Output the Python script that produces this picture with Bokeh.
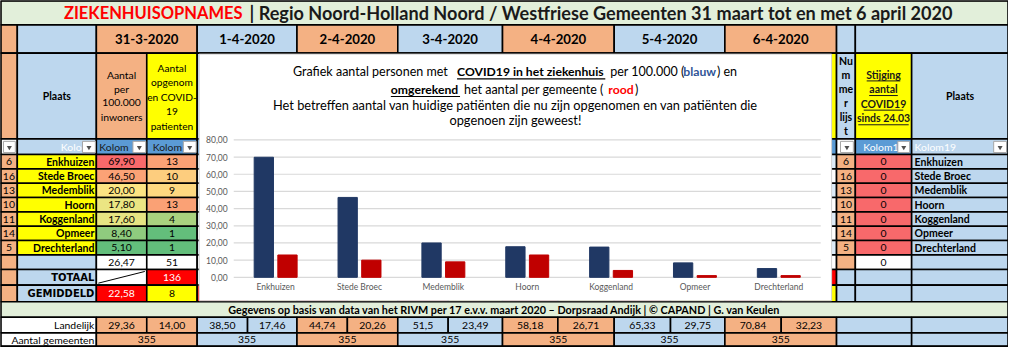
import numpy as np
from bokeh.plotting import figure
from bokeh.models import Range1d, ColumnDataSource
from bokeh.transform import dodge
from bokeh.core.properties import value
from bokeh.embed import file_html
from bokeh.resources import INLINE

# ---------------- data ----------------
cities = ["Enkhuizen", "Stede Broec", "Medemblik", "Hoorn", "Koggenland", "Opmeer", "Drechterland"]
list_nr = [6, 16, 13, 10, 11, 14, 5]
per_100k = [69.90, 46.50, 20.00, 17.80, 17.60, 8.40, 5.10]
admitted = [13, 10, 9, 13, 4, 1, 1]
increase_since_2403 = [0, 0, 0, 0, 0, 0, 0]
dates = ["31-3-2020", "1-4-2020", "2-4-2020", "3-4-2020", "4-4-2020", "5-4-2020", "6-4-2020"]
national_per_100k = ["29,36", "38,50", "44,74", "51,5", "58,18", "65,33", "70,84"]
national_admitted = ["14,00", "17,46", "20,26", "23,49", "26,71", "29,75", "32,23"]
municipalities = [355, 355, 355, 355, 355, 355, 355]
total_admitted = 136
avg_per_100k = 22.58
avg_admitted = 8
y_ticks = [0, 10, 20, 30, 40, 50, 60, 70, 80]

# ---------------- styles ----------------
ORANGE, BLUE, YELLOW, GREEN = "#F4B183", "#BDD7EE", "#FFFF00", "#E2EFDA"
FBLUE, RED, BAND, SCALE_RED = "#5B9BD5", "#FF0000", "#DDEBF7", "#F8696B"
date_colors = [ORANGE, BLUE, ORANGE, BLUE, ORANGE, BLUE, ORANGE]
val_colors = ["#F8696B", "#FBA276", "#FCE483", "#EBE583", "#E6E483", "#8FCB7E", "#63BE7B"]
cnt_colors = ["#FAA175", "#FDCD7E", "#FED880", "#FAA175", "#A9D27F", "#63BE7B", "#63BE7B"]
FONT = "Lato"
FS = 10.4      # regular sheet text
FSB = 10.5     # bold names

def fmt(v):
    return f"{v:.2f}".replace(".", ",")

# ---------------- sheet geometry (reference pixel grid) ----------------
W, H = 1008, 347
X0, X1, Y0, Y1 = 2, 1022, 3, 359

date_edges = [99, 201, 302, 404, 510, 623, 735, 848]
date_split = [150, 252, 353, 455, 566, 680, 792]
R_TITLE, R_DATE, R_HEAD, R_FILT = (3, 28), (28, 57), (57, 145), (145, 161)
data_edges = list(np.linspace(161, 264, 8))
R_SUM, R_TOT, R_GEM = (264, 279), (279, 295), (295, 312)
R_FOOT, R_LAND, R_NUM = (312, 328), (328, 344), (344, 358)

CL, CR, CT, CB = 203, 843, 58, 311
PA_L, PA_R = 238, 832
PA_Y0, PA_Y80 = 287, 146

p = figure(width=W, height=H, x_range=Range1d(X0, X1), y_range=Range1d(Y1, Y0),
           x_axis_type=None, y_axis_type=None, toolbar_location=None,
           output_backend="svg", min_border=0, outline_line_color=None)
p.grid.visible = False
p.background_fill_color = "white"
p.border_fill_color = "white"

n = len(cities)
ux = (PA_R - PA_L) / n
uy = (PA_Y0 - PA_Y80) / 80.0
p.extra_x_ranges = {"cx": Range1d(-0.5 - (PA_L - X0) / ux, n - 0.5 + (X1 - PA_R) / ux)}
p.extra_y_ranges = {"cy": Range1d(0 - (Y1 - PA_Y0) / uy, 80 + (PA_Y80 - Y0) / uy)}

C = dict(l=[], r=[], t=[], b=[], c=[])
def cell(l, r, row, c):
    C["l"].append(l); C["r"].append(r); C["t"].append(row[0]); C["b"].append(row[1]); C["c"].append(c)

cell(2, 1022, R_TITLE, GREEN)
cell(2, 19, R_DATE, ORANGE); cell(19, 99, R_DATE, BLUE)
for i in range(7):
    cell(date_edges[i], date_edges[i + 1], R_DATE, date_colors[i])
cell(848, 867, R_DATE, BLUE); cell(867, 1022, R_DATE, BLUE)
cell(2, 19, R_HEAD, ORANGE); cell(19, 99, R_HEAD, BLUE)
for i in range(7):
    cell(date_edges[i], date_split[i], R_HEAD, date_colors[i])
    cell(date_split[i], date_edges[i + 1], R_HEAD, YELLOW)
cell(848, 867, R_HEAD, BLUE); cell(867, 924, R_HEAD, YELLOW); cell(924, 1022, R_HEAD, BLUE)
cell(2, 19, R_FILT, "white"); cell(19, 99, R_FILT, BLUE)
for i in range(7):
    cell(date_edges[i], date_split[i], R_FILT, FBLUE)
    cell(date_split[i], date_edges[i + 1], R_FILT, FBLUE)
cell(848, 867, R_FILT, "white"); cell(867, 924, R_FILT, FBLUE); cell(924, 1022, R_FILT, BLUE)
for k in range(7):
    row = (data_edges[k], data_edges[k + 1])
    cell(2, 19, row, ORANGE); cell(19, 99, row, YELLOW)
    cell(99, 150, row, val_colors[k]); cell(150, 201, row, cnt_colors[k])
    band = BAND if k % 2 == 0 else "white"
    for i in range(1, 7):
        cell(date_edges[i], date_split[i], row, band)
        cell(date_split[i], date_edges[i + 1], row, band)
    cell(848, 867, row, ORANGE); cell(867, 924, row, SCALE_RED); cell(924, 1022, row, BLUE)
for row, c1, c2, side in [(R_SUM, "white", "white", None), (R_TOT, "white", RED, BLUE), (R_GEM, RED, YELLOW, BLUE)]:
    cell(2, 19, row, ORANGE); cell(19, 99, row, BLUE)
    for i in range(7):
        cell(date_edges[i], date_split[i], row, c1)
        cell(date_split[i], date_edges[i + 1], row, c2)
    if side is None:
        cell(848, 867, row, ORANGE); cell(867, 924, row, "white")
    else:
        cell(848, 867, row, BLUE); cell(867, 924, row, BLUE)
    cell(924, 1022, row, BLUE)
cell(2, 1022, R_FOOT, GREEN)
cell(2, 99, R_LAND, "white"); cell(2, 99, R_NUM, "white")
for i in range(7):
    cell(date_edges[i], date_split[i], R_LAND, date_colors[i])
    cell(date_split[i], date_edges[i + 1], R_LAND, date_colors[i])
    cell(date_edges[i], date_edges[i + 1], R_NUM, date_colors[i])
for row in (R_LAND, R_NUM):
    cell(848, 924, row, BLUE); cell(924, 1022, row, BLUE)

p.quad(left="l", right="r", top="t", bottom="b", fill_color="c", line_color="black",
       line_width=1.6, source=ColumnDataSource(C))
p.quad(left=[2], right=[1022], top=[3], bottom=[358], fill_color=None, line_color="black", line_width=2.4)

def T(x, y, s, size=FS, bold=False, color="black", align="center", font=FONT, **kw):
    p.text(x=[x], y=[y], text=[s], text_font=value(font), text_font_size=f"{size}px",
           text_font_style="bold" if bold else "normal", text_color=color,
           text_align=align, text_baseline="middle", **kw)

def button(l, r, t, b):
    p.quad(left=[l], right=[r], top=[t], bottom=[b], fill_color="white", line_color="#A6A6A6", line_width=1)
    p.scatter(x=[(l + r) / 2], y=[(t + b) / 2 + 0.5], marker="inverted_triangle", size=5,
              fill_color="#505050", line_color=None)

# title
T(247, 16, "ZIEKENHUISOPNAMES", 16.5, True, "#FF0000", "right")
T(254, 16, "| Regio Noord-Holland Noord / Westfriese Gemeenten 31 maart tot en met 6 april 2020", 18.1, True, "#1a1a1a", "left")
for i, d in enumerate(dates):
    T((date_edges[i] + date_edges[i + 1]) / 2, 42.5, d, 13.2, True)
T(59, 101, "Plaats", FSB, True)
T(973, 101, "Plaats", FSB, True)
for s, y in zip(["Aantal", "per", "100.000", "inwoners"], [79, 93.5, 108, 122.5]):
    T(124.5, y, s)
for s, y in zip(["Aantal", "opgenom", "en COVID-", "19", "patienten"], [72, 87, 102, 117, 132]):
    T(175.5, y, s, 10.2)
for s, y in zip(["Nu", "m", "me", "r", "lijs", "t"], np.linspace(65, 137, 6)):
    T(857.5, y, s, FSB, True)
for s, y, w in zip(["Stijging", "aantal", "COVID19", "sinds 24.03"], [79, 94, 109, 124], [34, 29, 40, 51]):
    T(895.5, y, s, FSB, True, "#1a1a1a")
    p.segment(x0=[895.5 - w / 2], x1=[895.5 + w / 2], y0=[y + 6.5], y1=[y + 6.5], line_color="#1a1a1a", line_width=1)
fy = 153
button(5, 17, 147.5, 159)
T(84, fy, "Kolo", FS, False, "white", "right")
button(85, 98, 147.5, 159)
T(102, fy, "Kolom", FS, False, "#1a1a1a", "left")
button(136, 149, 147.5, 159)
T(156, fy, "Kolom", FS, False, "#1a1a1a", "left")
button(187, 200, 147.5, 159)
button(852, 865, 147.5, 159)
T(875, fy, "Kolom1", FS, False, "white", "left")
button(910, 922, 147.5, 159)
T(927, fy, "Kolom19", FS, False, "white", "left")
button(1007, 1020, 147.5, 159)
for k in range(7):
    yc = (data_edges[k] + data_edges[k + 1]) / 2
    T(10.5, yc, str(list_nr[k]))
    T(97, yc, cities[k], FSB, True, "black", "right")
    T(124.5, yc, fmt(per_100k[k]))
    T(175.5, yc, str(admitted[k]))
    T(857.5, yc, str(list_nr[k]))
    T(895.5, yc, str(increase_since_2403[k]))
    T(927, yc, cities[k], FSB, True, "black", "left")
ys = sum(R_SUM) / 2
T(124.5, ys, fmt(sum(per_100k) / len(per_100k)))
T(175.5, ys, str(sum(admitted)))
T(895.5, ys, str(sum(increase_since_2403)))
yt = sum(R_TOT) / 2
T(97, yt, "TOTAAL", 10, True, "black", "right", "DejaVu Sans")
p.segment(x0=[101], y0=[293], x1=[148], y1=[281], line_color="black", line_width=1)
T(175.5, yt, str(total_admitted), FS, False, "white")
yg = sum(R_GEM) / 2
T(97, yg, "GEMIDDELD", 10, True, "black", "right", "DejaVu Sans")
T(124.5, yg, fmt(avg_per_100k), FS, False, "white")
T(175.5, yg, str(avg_admitted))
T(512, 320, "Gegevens op basis van data van het RIVM per 17 e.v.v. maart 2020 \u2013 Dorpsraad Andijk | \u00a9 CAPAND | G. van Keulen", 10.8, True)
yl, yn = sum(R_LAND) / 2, sum(R_NUM) / 2
T(97, yl, "Landelijk", FS, False, "black", "right")
T(97, yn, "Aantal gemeenten", FS, False, "black", "right")
for i in range(7):
    T((date_edges[i] + date_split[i]) / 2, yl, national_per_100k[i])
    T((date_split[i] + date_edges[i + 1]) / 2, yl, national_admitted[i])
    T((date_edges[i] + date_edges[i + 1]) / 2, yn, str(municipalities[i]))

# chart box and title
p.quad(left=[CL], right=[CR], top=[CT], bottom=[CB], fill_color="white", line_color="#D0D0D0", line_width=1)
segs = [
    (76, 298, "Grafiek aantal personen met ", False, "black", None),
    (76, 464, "COVID19 in het ziekenhuis", True, "black", 614),
    (76, 619, "per 100.000 (", False, "black", None),
    (76, 693, "blauw", True, "#2F5597", None),
    (76, 727, ") en", False, "black", None),
    (94, 397, "omgerekend", True, "black", 467),
    (94, 471, "het aantal per gemeente (", False, "black", None),
    (94, 617, "rood", True, "#FF0000", None),
    (94, 644, ")", False, "black", None),
]
for y, x, s, b, c, uend in segs:
    T(x, y, s, 12.2 if b else 12.5, b, c, "left")
    if uend:
        p.segment(x0=[x], x1=[uend], y0=[y + 7.5], y1=[y + 7.5], line_color="black", line_width=1.2)
T(523, 110, "Het betreffen aantal van huidige pati\u00ebnten die nu zijn opgenomen en van pati\u00ebnten die", 12.8)
T(523, 126, "opgenoen zijn geweest!", 12.8)

# ---------------- bar chart (drawn through the chart scales) ----------------
R = dict(x_range_name="cx", y_range_name="cy")
idx = list(range(n))
grid = ColumnDataSource(dict(y=y_ticks, lab=[fmt(t) for t in y_ticks],
                             x0=[-0.5] * len(y_ticks), x1=[n - 0.5] * len(y_ticks)))
p.segment(x0="x0", x1="x1", y0="y", y1="y", source=grid, line_color="#D9D9D9", line_width=1.2, **R)
p.text(x="x0", y="y", text="lab", source=grid, x_offset=-6, text_align="right", text_baseline="middle",
       text_font=value(FONT), text_font_size="8.5px", text_color="#595959", **R)
src = ColumnDataSource(dict(idx=idx, city=cities, per=per_100k, adm=admitted))
p.vbar(x=dodge("idx", -0.141), top="per", width=0.23, source=src,
       fill_color="#203864", line_color="#203864", **R)
p.vbar(x=dodge("idx", 0.141), top="adm", width=0.23, source=src,
       fill_color="#C00000", line_color="#C00000", **R)
p.text(x="idx", y=0, text="city", source=src, y_offset=10, text_align="center", text_baseline="middle",
       text_font=value(FONT), text_font_size="8.5px", text_color="#595959", **R)

open("out.html", "w").write(file_html(p, INLINE))
